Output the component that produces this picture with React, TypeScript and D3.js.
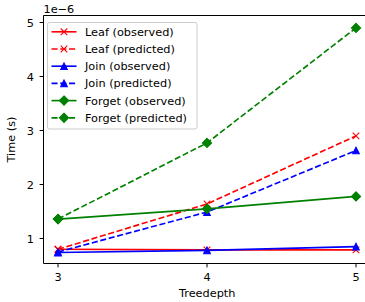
import React from 'react';
import * as d3 from 'd3';

const depths = [3, 4, 5];
const leafObserved = [0.8, 0.79, 0.79];
const leafPredicted = [0.8, 1.64, 2.9];
const joinObserved = [0.74, 0.78, 0.85];
const joinPredicted = [0.75, 1.49, 2.63];
const forgetObserved = [1.36, 1.55, 1.78];
const forgetPredicted = [1.36, 2.77, 4.9];
const yTicks = [1, 2, 3, 4, 5];

const series = [
  { label: 'Leaf (observed)', values: leafObserved, color: '#ff0000', dashed: false, marker: 'x' },
  { label: 'Leaf (predicted)', values: leafPredicted, color: '#ff0000', dashed: true, marker: 'x' },
  { label: 'Join (observed)', values: joinObserved, color: '#0000ff', dashed: false, marker: '^' },
  { label: 'Join (predicted)', values: joinPredicted, color: '#0000ff', dashed: true, marker: '^' },
  { label: 'Forget (observed)', values: forgetObserved, color: '#008000', dashed: false, marker: 'D' },
  { label: 'Forget (predicted)', values: forgetPredicted, color: '#008000', dashed: true, marker: 'D' },
];

const font = 'DejaVu Sans, sans-serif';
const fs = 11.3;
const lw = 1.65;
const dash = '6.1,2.65';

function Marker({ type, x, y, color }: { type: string; x: number; y: number; color: string }) {
  const h = 3.3;
  if (type === 'x') {
    return (
      <g stroke={color} strokeWidth={1.1}>
        <line x1={x - h} y1={y - h} x2={x + h} y2={y + h} />
        <line x1={x - h} y1={y + h} x2={x + h} y2={y - h} />
      </g>
    );
  }
  if (type === '^') {
    return <path d={`M${x},${y - h}L${x - h},${y + h}L${x + h},${y + h}Z`} fill={color} stroke={color} strokeWidth={1.1} />;
  }
  const r = 4.6;
  return <path d={`M${x},${y - r}L${x + r},${y}L${x},${y + r}L${x - r},${y}Z`} fill={color} stroke={color} strokeWidth={1.1} />;
}

export default function App() {
  const width = 365;
  const height = 302;
  const left = 43.5;
  const top = 15.5;
  const bottom = 263.5;

  const x = d3.scaleLinear().domain([2.9, 5.1]).range([43.1, 370.9]);
  const y = d3.scaleLinear().domain([0.537, 5.13]).range([bottom, top]);

  const line = d3.line<number>()
    .x((_, i) => x(depths[i]))
    .y(d => y(d));

  const legendX = 47.5;
  const legendY = 22.5;
  const rowH = 17.2;

  return (
    <svg width={width} height={height} style={{ position: 'absolute', left: 0, top: 0 }} fontFamily={font}>
      <rect width={width} height={height} fill="#fff" />
      <defs>
        <clipPath id="plot">
          <rect x={left} y={top} width={width - left + 10} height={bottom - top} />
        </clipPath>
      </defs>

      <g clipPath="url(#plot)">
        {series.map(s => (
          <g key={s.label}>
            <path
              d={line(s.values) || ''}
              fill="none"
              stroke={s.color}
              strokeWidth={lw}
              strokeDasharray={s.dashed ? dash : undefined}
            />
            {s.values.map((v, i) => (
              <Marker key={i} type={s.marker} x={x(depths[i])} y={y(v)} color={s.color} />
            ))}
          </g>
        ))}
      </g>

      {/* spines */}
      <line x1={left} y1={top} x2={left} y2={bottom} stroke="#000" strokeWidth={1} />
      <line x1={left} y1={bottom} x2={width} y2={bottom} stroke="#000" strokeWidth={1} />
      <line x1={left} y1={top} x2={width} y2={top} stroke="#000" strokeWidth={1} />

      {/* x ticks */}
      {depths.map(d => (
        <g key={d}>
          <line x1={x(d)} y1={bottom} x2={x(d)} y2={bottom + 3.9} stroke="#000" />
          <text x={x(d)} y={277} dy="0.36em" textAnchor="middle" fontSize={fs} fill="#000">{d}</text>
        </g>
      ))}
      <text x={(left + 371) / 2} y={292.7} dy="0.36em" textAnchor="middle" fontSize={fs} fill="#000">Treedepth</text>

      {/* y ticks */}
      {yTicks.map(t => (
        <g key={t}>
          <line x1={left - 3.9} y1={y(t)} x2={left} y2={y(t)} stroke="#000" />
          <text x={left - 9.5} y={y(t)} dy="0.36em" textAnchor="end" fontSize={fs} fill="#000">{t}</text>
        </g>
      ))}
      <text x={left} y={12.5} fontSize={fs} fill="#000">1e−6</text>
      <text transform={`translate(15,${(top + bottom) / 2}) rotate(-90)`} textAnchor="middle" fontSize={fs} fill="#000">Time (s)</text>

      {/* legend */}
      <rect x={legendX} y={legendY} width={149.5} height={106.5} rx={2} fill="#fff" fillOpacity={0.8} stroke="#cccccc" strokeWidth={1} />
      {series.map((s, i) => {
        const cy = legendY + 9.3 + i * rowH;
        return (
          <g key={s.label}>
            <line
              x1={legendX + 4}
              x2={legendX + 29}
              y1={cy}
              y2={cy}
              stroke={s.color}
              strokeWidth={lw}
              strokeDasharray={s.dashed ? dash : undefined}
            />
            <Marker type={s.marker} x={legendX + 16.5} y={cy} color={s.color} />
            <text x={legendX + 37.5} y={cy} dy="0.36em" fontSize={fs} fill="#000">{s.label}</text>
          </g>
        );
      })}
    </svg>
  );
}
